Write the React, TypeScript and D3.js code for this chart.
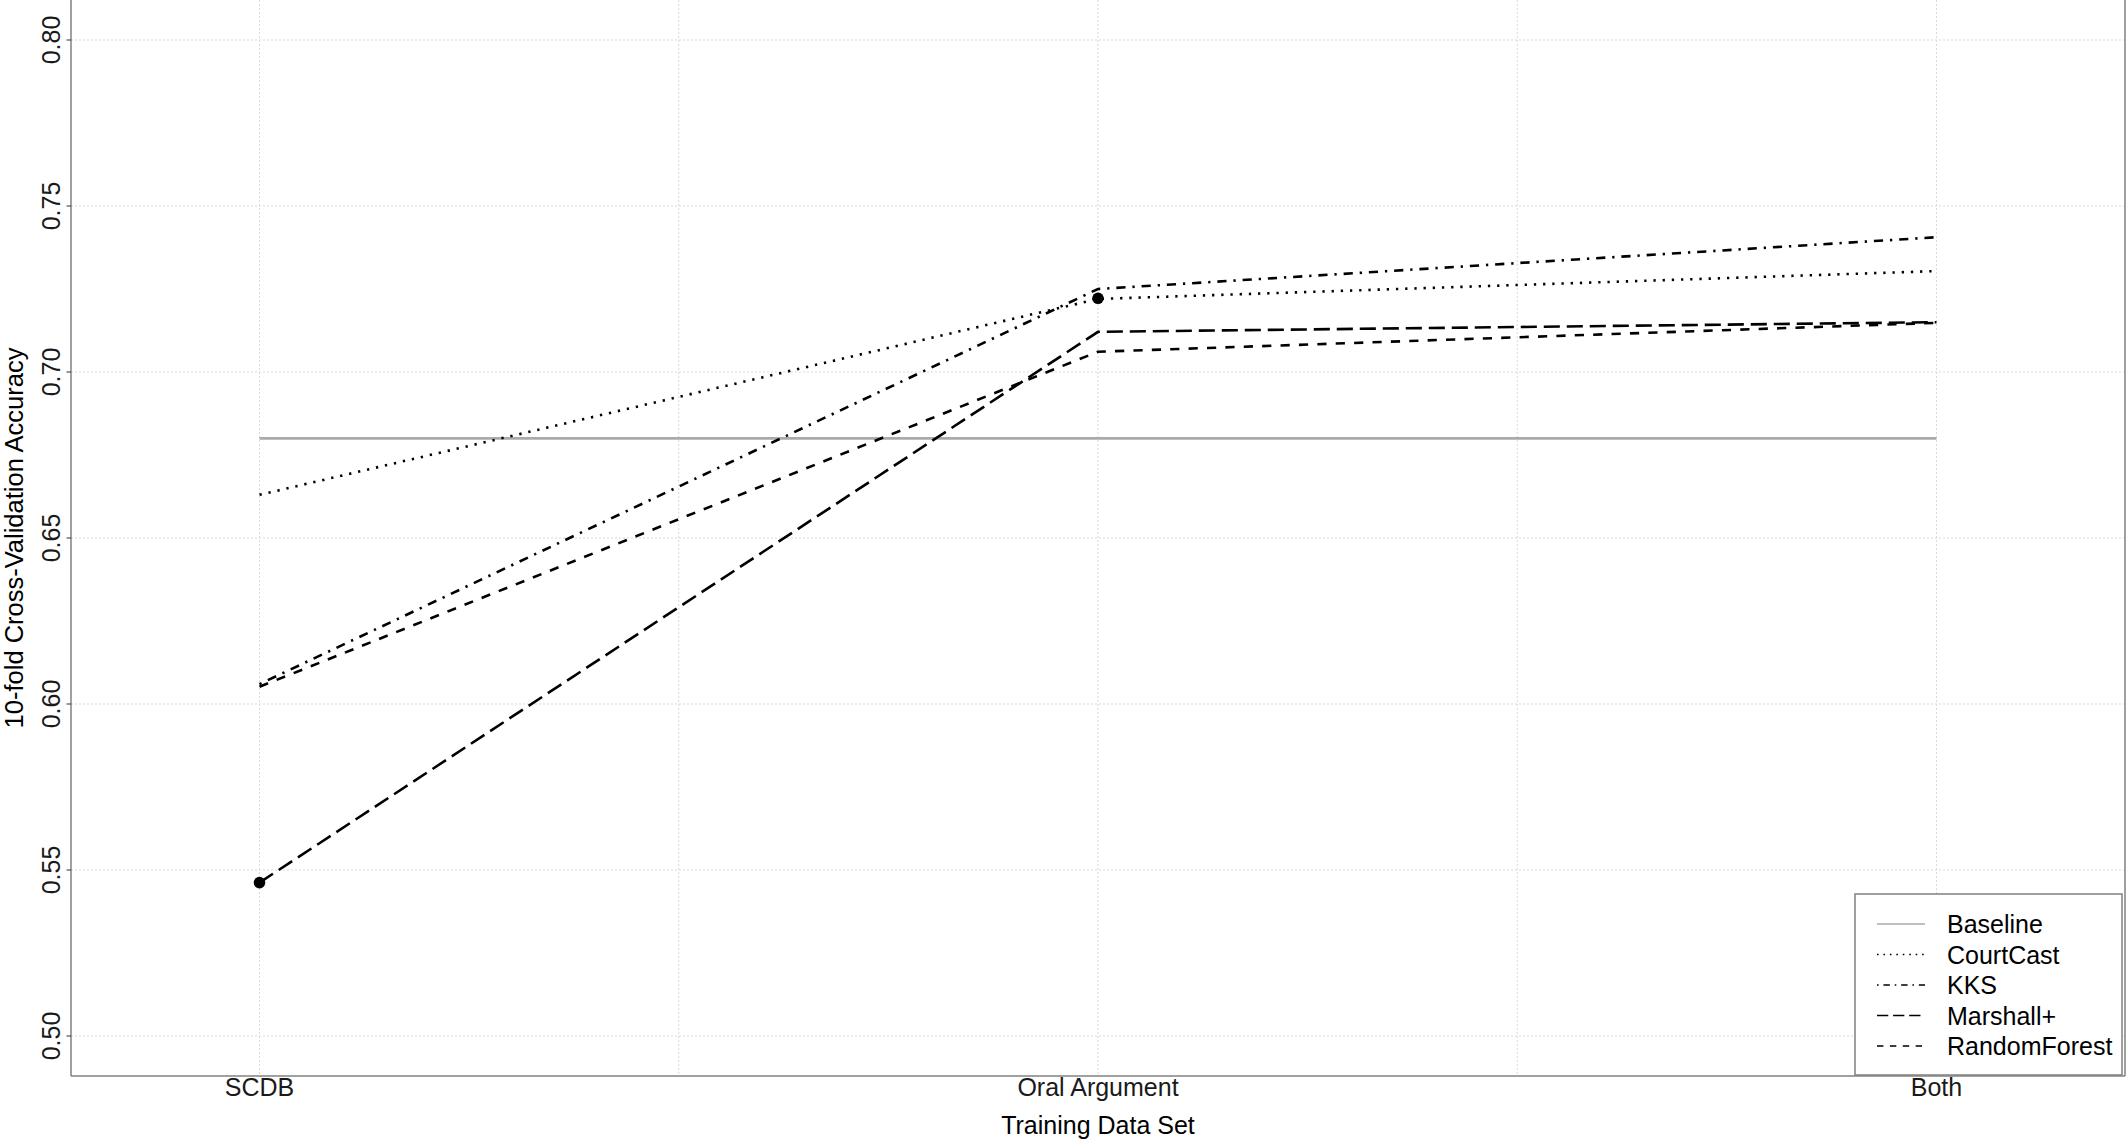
import React from "react";
import * as d3 from "d3";

const categories = ["SCDB", "Oral Argument", "Both"];
const seriesNames = ["Baseline", "CourtCast", "KKS", "Marshall+", "RandomForest"];
const baselineValues = [0.68, 0.68, 0.68];
const courtCastValues = [0.663, 0.722, 0.7304];
const kksValues = [0.606, 0.725, 0.7406];
const marshallValues = [0.5462, 0.7121, 0.715];
const randomForestValues = [0.6052, 0.7061, 0.7148];
const yTicks = [0.5, 0.55, 0.6, 0.65, 0.7, 0.75, 0.8];
const highlightPoints = [
  { series: "Marshall+", category: "SCDB", value: 0.5462 },
  { series: "CourtCast", category: "Oral Argument", value: 0.7222 },
];

const W = 2126;
const H = 1139;
const left = 71;
const right = 2125;
const top = 0;
const bottom = 1076;
const FONT = "'Liberation Sans', Arial, Helvetica, sans-serif";

const lw = 2.3;
const styles: Record<string, { stroke: string; dash: string | undefined; width: number }> = {
  Baseline: { stroke: "#aaaaaa", dash: undefined, width: 2.6 },
  CourtCast: { stroke: "#000", dash: `${lw},${lw * 3}`, width: lw + 0.3 },
  KKS: { stroke: "#000", dash: `${lw},${lw * 3},${lw * 4},${lw * 3}`, width: lw + 0.3 },
  "Marshall+": { stroke: "#000", dash: `${lw * 7},${lw * 3}`, width: lw + 0.3 },
  RandomForest: { stroke: "#000", dash: `${lw * 4},${lw * 4}`, width: lw + 0.3 },
};

export default function App() {
  const x = d3.scalePoint<string>().domain(categories).range([left, right]).padding(0.2248);
  const y = d3.scaleLinear().domain([0.50 - (40 / 166) * 0.05, 0.50 + (1036 / 166) * 0.05]).range([bottom, top]);

  const seriesData: Record<string, number[]> = {
    Baseline: baselineValues,
    CourtCast: courtCastValues,
    KKS: kksValues,
    "Marshall+": marshallValues,
    RandomForest: randomForestValues,
  };

  const line = d3
    .line<[string, number]>()
    .x((d) => x(d[0]) as number)
    .y((d) => y(d[1]));

  const step = x.step();
  const minorX = categories.slice(0, -1).map((c) => (x(c) as number) + step / 2);

  const legX = 1855;
  const legY = 894;
  const legW = 267;
  const legH = 181;
  const rowY = (i: number) => 924 + i * 30.5;

  return (
    <svg
      width={W}
      height={H}
      style={{ position: "absolute", left: 0, top: 0, background: "#fff" }}
      fontFamily={FONT}
    >
      <rect x={0} y={0} width={W} height={H} fill="#fff" />
      {/* grid */}
      {yTicks.map((t) => (
        <line key={"gy" + t} x1={left} x2={right} y1={y(t)} y2={y(t)} stroke="#d9d9d9" strokeWidth={1} strokeDasharray="2,2" />
      ))}
      {minorX.map((mx, i) => (
        <line key={"mx" + i} x1={mx} x2={mx} y1={top} y2={bottom} stroke="#d9d9d9" strokeWidth={1} strokeDasharray="2,2" />
      ))}
      {categories.map((c) => (
        <line key={"gx" + c} x1={x(c)} x2={x(c)} y1={top} y2={bottom} stroke="#d9d9d9" strokeWidth={1} strokeDasharray="2,2" />
      ))}
      {/* series */}
      {seriesNames.map((s) => (
        <path
          key={s}
          d={line(categories.map((c, i) => [c, seriesData[s][i]] as [string, number])) || ""}
          fill="none"
          stroke={styles[s].stroke}
          strokeWidth={styles[s].width}
          strokeDasharray={styles[s].dash}
        />
      ))}
      {highlightPoints.map((p, i) => (
        <circle key={"pt" + i} cx={x(p.category)} cy={y(p.value)} r={5.8} fill="#000" />
      ))}
      {/* axes */}
      <line x1={left} x2={left} y1={top} y2={bottom} stroke="#808080" strokeWidth={1.5} />
      <line x1={left} x2={right} y1={bottom} y2={bottom} stroke="#808080" strokeWidth={1.5} />
      <line x1={right} x2={right} y1={top} y2={bottom} stroke="#808080" strokeWidth={1.5} />
      {yTicks.map((t) => (
        <g key={"yt" + t}>
          <line x1={left - 4.5} x2={left} y1={y(t)} y2={y(t)} stroke="#333" strokeWidth={1} />
          <text
            transform={`translate(60,${y(t)}) rotate(-90)`}
            textAnchor="middle"
            fontSize={25}
            fill="#1a1a1a"
          >
            {t.toFixed(2)}
          </text>
        </g>
      ))}
      {categories.map((c) => (
        <text key={"xt" + c} x={x(c)} y={1096} textAnchor="middle" fontSize={25} fill="#1a1a1a">
          {c}
        </text>
      ))}
      <text x={(left + right) / 2} y={1134} textAnchor="middle" fontSize={25} fill="#000">
        Training Data Set
      </text>
      <text transform={`translate(23,${(top + bottom) / 2}) rotate(-90)`} textAnchor="middle" fontSize={25.5} fill="#000">
        10-fold Cross-Validation Accuracy
      </text>
      {/* legend */}
      <rect x={legX} y={legY} width={legW} height={legH} fill="#fff" stroke="#808080" strokeWidth={1.5} />
      {seriesNames.map((s, i) => (
        <g key={"lg" + s}>
          <line
            x1={1877}
            x2={1925}
            y1={rowY(i)}
            y2={rowY(i)}
            stroke={styles[s].stroke}
            strokeWidth={1.6}
            strokeDasharray={s === "Baseline" ? undefined : styles[s].dash?.split(",").map((v) => (+v * 0.7).toFixed(2)).join(",")}
          />
          <text x={1947} y={rowY(i) + 9} fontSize={25} fill="#000">
            {s}
          </text>
        </g>
      ))}
    </svg>
  );
}
